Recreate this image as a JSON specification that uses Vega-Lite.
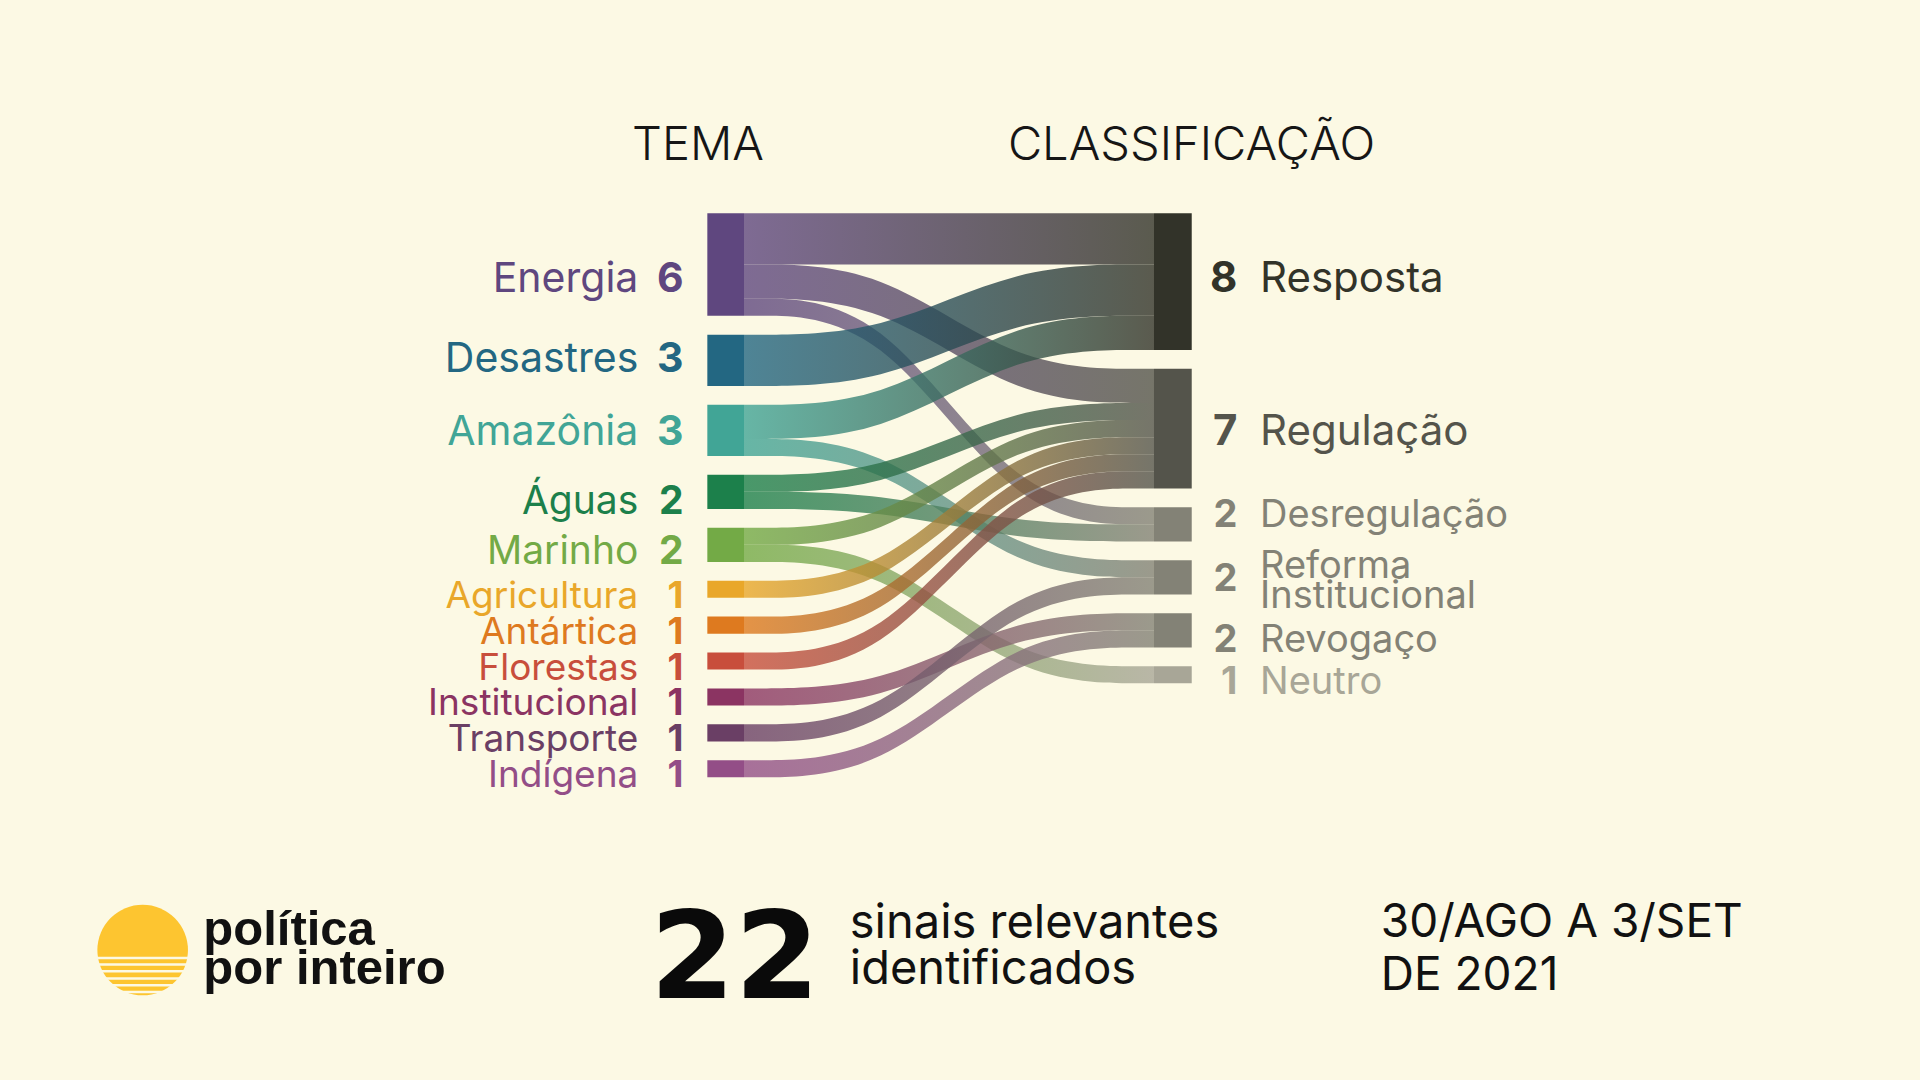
{
  "$schema": "https://vega.github.io/schema/vega-lite/v6.json",
  "width": 1920,
  "height": 1080,
  "autosize": {"type": "none"},
  "padding": 0,
  "background": "#fcf9e4",
  "config": {"view": {"stroke": null}, "text": {"font": "Inter"}},
  "data": {"values": [{}]},
  "datasets": {
    "links": [
      {"link": "Energia → Resposta", "source": "Energia", "target": "Resposta", "value": 3, "step": 0, "y0": 0, "y1": 3},
      {"link": "Energia → Resposta", "source": "Energia", "target": "Resposta", "value": 3, "step": 1, "y0": 0, "y1": 3},
      {"link": "Energia → Resposta", "source": "Energia", "target": "Resposta", "value": 3, "step": 2, "y0": 0, "y1": 3},
      {"link": "Energia → Resposta", "source": "Energia", "target": "Resposta", "value": 3, "step": 3, "y0": 0, "y1": 3},
      {"link": "Energia → Regulação", "source": "Energia", "target": "Regulação", "value": 2, "step": 0, "y0": 3, "y1": 5},
      {"link": "Energia → Regulação", "source": "Energia", "target": "Regulação", "value": 2, "step": 1, "y0": 3, "y1": 5},
      {"link": "Energia → Regulação", "source": "Energia", "target": "Regulação", "value": 2, "step": 2, "y0": 9.1, "y1": 11.1},
      {"link": "Energia → Regulação", "source": "Energia", "target": "Regulação", "value": 2, "step": 3, "y0": 9.1, "y1": 11.1},
      {"link": "Energia → Desregulação", "source": "Energia", "target": "Desregulação", "value": 1, "step": 0, "y0": 5, "y1": 6},
      {"link": "Energia → Desregulação", "source": "Energia", "target": "Desregulação", "value": 1, "step": 1, "y0": 5, "y1": 6},
      {"link": "Energia → Desregulação", "source": "Energia", "target": "Desregulação", "value": 1, "step": 2, "y0": 17.2, "y1": 18.2},
      {"link": "Energia → Desregulação", "source": "Energia", "target": "Desregulação", "value": 1, "step": 3, "y0": 17.2, "y1": 18.2},
      {"link": "Desastres → Resposta", "source": "Desastres", "target": "Resposta", "value": 3, "step": 0, "y0": 7.1, "y1": 10.1},
      {"link": "Desastres → Resposta", "source": "Desastres", "target": "Resposta", "value": 3, "step": 1, "y0": 7.1, "y1": 10.1},
      {"link": "Desastres → Resposta", "source": "Desastres", "target": "Resposta", "value": 3, "step": 2, "y0": 3, "y1": 6},
      {"link": "Desastres → Resposta", "source": "Desastres", "target": "Resposta", "value": 3, "step": 3, "y0": 3, "y1": 6},
      {"link": "Amazônia → Resposta", "source": "Amazônia", "target": "Resposta", "value": 2, "step": 0, "y0": 11.2, "y1": 13.2},
      {"link": "Amazônia → Resposta", "source": "Amazônia", "target": "Resposta", "value": 2, "step": 1, "y0": 11.2, "y1": 13.2},
      {"link": "Amazônia → Resposta", "source": "Amazônia", "target": "Resposta", "value": 2, "step": 2, "y0": 6, "y1": 8},
      {"link": "Amazônia → Resposta", "source": "Amazônia", "target": "Resposta", "value": 2, "step": 3, "y0": 6, "y1": 8},
      {"link": "Amazônia → Reforma Institucional", "source": "Amazônia", "target": "Reforma Institucional", "value": 1, "step": 0, "y0": 13.2, "y1": 14.2},
      {"link": "Amazônia → Reforma Institucional", "source": "Amazônia", "target": "Reforma Institucional", "value": 1, "step": 1, "y0": 13.2, "y1": 14.2},
      {"link": "Amazônia → Reforma Institucional", "source": "Amazônia", "target": "Reforma Institucional", "value": 1, "step": 2, "y0": 20.3, "y1": 21.3},
      {"link": "Amazônia → Reforma Institucional", "source": "Amazônia", "target": "Reforma Institucional", "value": 1, "step": 3, "y0": 20.3, "y1": 21.3},
      {"link": "Águas → Regulação", "source": "Águas", "target": "Regulação", "value": 1, "step": 0, "y0": 15.3, "y1": 16.3},
      {"link": "Águas → Regulação", "source": "Águas", "target": "Regulação", "value": 1, "step": 1, "y0": 15.3, "y1": 16.3},
      {"link": "Águas → Regulação", "source": "Águas", "target": "Regulação", "value": 1, "step": 2, "y0": 11.1, "y1": 12.1},
      {"link": "Águas → Regulação", "source": "Águas", "target": "Regulação", "value": 1, "step": 3, "y0": 11.1, "y1": 12.1},
      {"link": "Águas → Desregulação", "source": "Águas", "target": "Desregulação", "value": 1, "step": 0, "y0": 16.3, "y1": 17.3},
      {"link": "Águas → Desregulação", "source": "Águas", "target": "Desregulação", "value": 1, "step": 1, "y0": 16.3, "y1": 17.3},
      {"link": "Águas → Desregulação", "source": "Águas", "target": "Desregulação", "value": 1, "step": 2, "y0": 18.2, "y1": 19.2},
      {"link": "Águas → Desregulação", "source": "Águas", "target": "Desregulação", "value": 1, "step": 3, "y0": 18.2, "y1": 19.2},
      {"link": "Marinho → Regulação", "source": "Marinho", "target": "Regulação", "value": 1, "step": 0, "y0": 18.4, "y1": 19.4},
      {"link": "Marinho → Regulação", "source": "Marinho", "target": "Regulação", "value": 1, "step": 1, "y0": 18.4, "y1": 19.4},
      {"link": "Marinho → Regulação", "source": "Marinho", "target": "Regulação", "value": 1, "step": 2, "y0": 12.1, "y1": 13.1},
      {"link": "Marinho → Regulação", "source": "Marinho", "target": "Regulação", "value": 1, "step": 3, "y0": 12.1, "y1": 13.1},
      {"link": "Marinho → Neutro", "source": "Marinho", "target": "Neutro", "value": 1, "step": 0, "y0": 19.4, "y1": 20.4},
      {"link": "Marinho → Neutro", "source": "Marinho", "target": "Neutro", "value": 1, "step": 1, "y0": 19.4, "y1": 20.4},
      {"link": "Marinho → Neutro", "source": "Marinho", "target": "Neutro", "value": 1, "step": 2, "y0": 26.5, "y1": 27.5},
      {"link": "Marinho → Neutro", "source": "Marinho", "target": "Neutro", "value": 1, "step": 3, "y0": 26.5, "y1": 27.5},
      {"link": "Agricultura → Regulação", "source": "Agricultura", "target": "Regulação", "value": 1, "step": 0, "y0": 21.5, "y1": 22.5},
      {"link": "Agricultura → Regulação", "source": "Agricultura", "target": "Regulação", "value": 1, "step": 1, "y0": 21.5, "y1": 22.5},
      {"link": "Agricultura → Regulação", "source": "Agricultura", "target": "Regulação", "value": 1, "step": 2, "y0": 13.1, "y1": 14.1},
      {"link": "Agricultura → Regulação", "source": "Agricultura", "target": "Regulação", "value": 1, "step": 3, "y0": 13.1, "y1": 14.1},
      {"link": "Antártica → Regulação", "source": "Antártica", "target": "Regulação", "value": 1, "step": 0, "y0": 23.6, "y1": 24.6},
      {"link": "Antártica → Regulação", "source": "Antártica", "target": "Regulação", "value": 1, "step": 1, "y0": 23.6, "y1": 24.6},
      {"link": "Antártica → Regulação", "source": "Antártica", "target": "Regulação", "value": 1, "step": 2, "y0": 14.1, "y1": 15.1},
      {"link": "Antártica → Regulação", "source": "Antártica", "target": "Regulação", "value": 1, "step": 3, "y0": 14.1, "y1": 15.1},
      {"link": "Florestas → Regulação", "source": "Florestas", "target": "Regulação", "value": 1, "step": 0, "y0": 25.7, "y1": 26.7},
      {"link": "Florestas → Regulação", "source": "Florestas", "target": "Regulação", "value": 1, "step": 1, "y0": 25.7, "y1": 26.7},
      {"link": "Florestas → Regulação", "source": "Florestas", "target": "Regulação", "value": 1, "step": 2, "y0": 15.1, "y1": 16.1},
      {"link": "Florestas → Regulação", "source": "Florestas", "target": "Regulação", "value": 1, "step": 3, "y0": 15.1, "y1": 16.1},
      {"link": "Institucional → Revogaço", "source": "Institucional", "target": "Revogaço", "value": 1, "step": 0, "y0": 27.8, "y1": 28.8},
      {"link": "Institucional → Revogaço", "source": "Institucional", "target": "Revogaço", "value": 1, "step": 1, "y0": 27.8, "y1": 28.8},
      {"link": "Institucional → Revogaço", "source": "Institucional", "target": "Revogaço", "value": 1, "step": 2, "y0": 23.4, "y1": 24.4},
      {"link": "Institucional → Revogaço", "source": "Institucional", "target": "Revogaço", "value": 1, "step": 3, "y0": 23.4, "y1": 24.4},
      {"link": "Transporte → Reforma Institucional", "source": "Transporte", "target": "Reforma Institucional", "value": 1, "step": 0, "y0": 29.9, "y1": 30.9},
      {"link": "Transporte → Reforma Institucional", "source": "Transporte", "target": "Reforma Institucional", "value": 1, "step": 1, "y0": 29.9, "y1": 30.9},
      {"link": "Transporte → Reforma Institucional", "source": "Transporte", "target": "Reforma Institucional", "value": 1, "step": 2, "y0": 21.3, "y1": 22.3},
      {"link": "Transporte → Reforma Institucional", "source": "Transporte", "target": "Reforma Institucional", "value": 1, "step": 3, "y0": 21.3, "y1": 22.3},
      {"link": "Indígena → Revogaço", "source": "Indígena", "target": "Revogaço", "value": 1, "step": 0, "y0": 32, "y1": 33},
      {"link": "Indígena → Revogaço", "source": "Indígena", "target": "Revogaço", "value": 1, "step": 1, "y0": 32, "y1": 33},
      {"link": "Indígena → Revogaço", "source": "Indígena", "target": "Revogaço", "value": 1, "step": 2, "y0": 24.4, "y1": 25.4},
      {"link": "Indígena → Revogaço", "source": "Indígena", "target": "Revogaço", "value": 1, "step": 3, "y0": 24.4, "y1": 25.4}
    ]
  },
  "resolve": {"scale": {"size": "independent"}},
  "layer": [
    {
      "data": {"name": "links"},
      "encoding": {
        "x": {"field": "step", "type": "quantitative", "axis": null, "scale": {"domain": [-5.4439, 8.6049], "nice": false, "zero": false}},
        "y": {"field": "y0", "type": "quantitative", "axis": null, "stack": null, "scale": {"domain": [-12.481, 50.714], "reverse": true, "nice": false, "zero": false}},
        "y2": {"field": "y1"}
      },
      "layer": [
        {"transform": [{"filter": {"field": "link", "equal": "Energia → Resposta"}}], "mark": {"type": "area", "interpolate": "basis", "fillOpacity": 0.8, "fill": {"gradient": "linear", "stops": [{"offset": 0, "color": "#5f477f"}, {"offset": 1, "color": "#323329"}]}}},
        {"transform": [{"filter": {"field": "link", "equal": "Energia → Regulação"}}], "mark": {"type": "area", "interpolate": "basis", "fillOpacity": 0.8, "fill": {"gradient": "linear", "stops": [{"offset": 0, "color": "#5f477f"}, {"offset": 1, "color": "#54544b"}]}}},
        {"transform": [{"filter": {"field": "link", "equal": "Energia → Desregulação"}}], "mark": {"type": "area", "interpolate": "basis", "fillOpacity": 0.8, "fill": {"gradient": "linear", "stops": [{"offset": 0, "color": "#5f477f"}, {"offset": 1, "color": "#838276"}]}}},
        {"transform": [{"filter": {"field": "link", "equal": "Desastres → Resposta"}}], "mark": {"type": "area", "interpolate": "basis", "fillOpacity": 0.8, "fill": {"gradient": "linear", "stops": [{"offset": 0, "color": "#236782"}, {"offset": 1, "color": "#323329"}]}}},
        {"transform": [{"filter": {"field": "link", "equal": "Amazônia → Resposta"}}], "mark": {"type": "area", "interpolate": "basis", "fillOpacity": 0.8, "fill": {"gradient": "linear", "stops": [{"offset": 0, "color": "#41a596"}, {"offset": 1, "color": "#323329"}]}}},
        {"transform": [{"filter": {"field": "link", "equal": "Amazônia → Reforma Institucional"}}], "mark": {"type": "area", "interpolate": "basis", "fillOpacity": 0.8, "fill": {"gradient": "linear", "stops": [{"offset": 0, "color": "#41a596"}, {"offset": 1, "color": "#838276"}]}}},
        {"transform": [{"filter": {"field": "link", "equal": "Águas → Regulação"}}], "mark": {"type": "area", "interpolate": "basis", "fillOpacity": 0.8, "fill": {"gradient": "linear", "stops": [{"offset": 0, "color": "#1c804b"}, {"offset": 1, "color": "#54544b"}]}}},
        {"transform": [{"filter": {"field": "link", "equal": "Águas → Desregulação"}}], "mark": {"type": "area", "interpolate": "basis", "fillOpacity": 0.8, "fill": {"gradient": "linear", "stops": [{"offset": 0, "color": "#1c804b"}, {"offset": 1, "color": "#838276"}]}}},
        {"transform": [{"filter": {"field": "link", "equal": "Marinho → Regulação"}}], "mark": {"type": "area", "interpolate": "basis", "fillOpacity": 0.8, "fill": {"gradient": "linear", "stops": [{"offset": 0, "color": "#73aa46"}, {"offset": 1, "color": "#54544b"}]}}},
        {"transform": [{"filter": {"field": "link", "equal": "Marinho → Neutro"}}], "mark": {"type": "area", "interpolate": "basis", "fillOpacity": 0.8, "fill": {"gradient": "linear", "stops": [{"offset": 0, "color": "#73aa46"}, {"offset": 1, "color": "#a8a697"}]}}},
        {"transform": [{"filter": {"field": "link", "equal": "Agricultura → Regulação"}}], "mark": {"type": "area", "interpolate": "basis", "fillOpacity": 0.8, "fill": {"gradient": "linear", "stops": [{"offset": 0, "color": "#e9a72a"}, {"offset": 1, "color": "#54544b"}]}}},
        {"transform": [{"filter": {"field": "link", "equal": "Antártica → Regulação"}}], "mark": {"type": "area", "interpolate": "basis", "fillOpacity": 0.8, "fill": {"gradient": "linear", "stops": [{"offset": 0, "color": "#de7a1f"}, {"offset": 1, "color": "#54544b"}]}}},
        {"transform": [{"filter": {"field": "link", "equal": "Florestas → Regulação"}}], "mark": {"type": "area", "interpolate": "basis", "fillOpacity": 0.8, "fill": {"gradient": "linear", "stops": [{"offset": 0, "color": "#c84e3c"}, {"offset": 1, "color": "#54544b"}]}}},
        {"transform": [{"filter": {"field": "link", "equal": "Institucional → Revogaço"}}], "mark": {"type": "area", "interpolate": "basis", "fillOpacity": 0.8, "fill": {"gradient": "linear", "stops": [{"offset": 0, "color": "#8b3462"}, {"offset": 1, "color": "#838276"}]}}},
        {"transform": [{"filter": {"field": "link", "equal": "Transporte → Reforma Institucional"}}], "mark": {"type": "area", "interpolate": "basis", "fillOpacity": 0.8, "fill": {"gradient": "linear", "stops": [{"offset": 0, "color": "#6a3f65"}, {"offset": 1, "color": "#838276"}]}}},
        {"transform": [{"filter": {"field": "link", "equal": "Indígena → Revogaço"}}], "mark": {"type": "area", "interpolate": "basis", "fillOpacity": 0.8, "fill": {"gradient": "linear", "stops": [{"offset": 0, "color": "#934e87"}, {"offset": 1, "color": "#838276"}]}}}
      ]
    },
    {
      "data": {"name": "links"},
      "transform": [
        {"filter": {"field": "step", "equal": 0}},
        {"aggregate": [{"op": "min", "field": "y0", "as": "top"}, {"op": "max", "field": "y1", "as": "bottom"}], "groupby": ["source"]}
      ],
      "mark": {"type": "rect"},
      "encoding": {
        "x": {"datum": -0.2683, "type": "quantitative", "axis": null, "scale": {"domain": [-5.4439, 8.6049], "nice": false, "zero": false}},
        "x2": {"datum": 0},
        "y": {"field": "top", "type": "quantitative", "axis": null, "scale": {"domain": [-12.481, 50.714], "reverse": true, "nice": false, "zero": false}},
        "y2": {"field": "bottom"},
        "color": {"field": "source", "type": "nominal", "legend": null, "scale": {"domain": ["Energia", "Desastres", "Amazônia", "Águas", "Marinho", "Agricultura", "Antártica", "Florestas", "Institucional", "Transporte", "Indígena", "Resposta", "Regulação", "Desregulação", "Reforma Institucional", "Revogaço", "Neutro"], "range": ["#5f477f", "#236782", "#41a596", "#1c804b", "#73aa46", "#e9a72a", "#de7a1f", "#c84e3c", "#8b3462", "#6a3f65", "#934e87", "#323329", "#54544b", "#838276", "#838276", "#838276", "#a8a697"]}}
      }
    },
    {
      "data": {"name": "links"},
      "transform": [
        {"filter": {"field": "step", "equal": 3}},
        {"aggregate": [{"op": "min", "field": "y0", "as": "top"}, {"op": "max", "field": "y1", "as": "bottom"}], "groupby": ["target"]}
      ],
      "mark": {"type": "rect"},
      "encoding": {
        "x": {"datum": 3, "type": "quantitative", "axis": null, "scale": {"domain": [-5.4439, 8.6049], "nice": false, "zero": false}},
        "x2": {"datum": 3.2761},
        "y": {"field": "top", "type": "quantitative", "axis": null, "scale": {"domain": [-12.481, 50.714], "reverse": true, "nice": false, "zero": false}},
        "y2": {"field": "bottom"},
        "color": {"field": "target", "type": "nominal", "legend": null, "scale": {"domain": ["Energia", "Desastres", "Amazônia", "Águas", "Marinho", "Agricultura", "Antártica", "Florestas", "Institucional", "Transporte", "Indígena", "Resposta", "Regulação", "Desregulação", "Reforma Institucional", "Revogaço", "Neutro"], "range": ["#5f477f", "#236782", "#41a596", "#1c804b", "#73aa46", "#e9a72a", "#de7a1f", "#c84e3c", "#8b3462", "#6a3f65", "#934e87", "#323329", "#54544b", "#838276", "#838276", "#838276", "#a8a697"]}}
      }
    },
    {
      "data": {"name": "links"},
      "transform": [
        {"filter": {"field": "step", "equal": 0}},
        {"aggregate": [{"op": "min", "field": "y0", "as": "top"}, {"op": "max", "field": "y1", "as": "bottom"}, {"op": "sum", "field": "value", "as": "total"}], "groupby": ["source"]},
        {"fold": ["top", "bottom"], "as": ["edge", "pos"]},
        {"aggregate": [{"op": "mean", "field": "pos", "as": "mid"}], "groupby": ["source", "total"]}
      ],
      "encoding": {
        "x": {"datum": -0.2683, "type": "quantitative", "axis": null, "scale": {"domain": [-5.4439, 8.6049], "nice": false, "zero": false}},
        "y": {"field": "mid", "type": "quantitative", "axis": null, "scale": {"domain": [-12.481, 50.714], "reverse": true, "nice": false, "zero": false}},
        "size": {"field": "total", "type": "quantitative", "legend": null, "scale": {"type": "linear", "domain": [1, 3], "range": [37, 41], "clamp": true}},
        "color": {"field": "source", "type": "nominal", "legend": null, "scale": {"domain": ["Energia", "Desastres", "Amazônia", "Águas", "Marinho", "Agricultura", "Antártica", "Florestas", "Institucional", "Transporte", "Indígena", "Resposta", "Regulação", "Desregulação", "Reforma Institucional", "Revogaço", "Neutro"], "range": ["#5f477f", "#236782", "#41a596", "#1c804b", "#73aa46", "#e9a72a", "#de7a1f", "#c84e3c", "#8b3462", "#6a3f65", "#934e87", "#323329", "#54544b", "#838276", "#838276", "#838276", "#a8a697"]}}
      },
      "layer": [
        {"transform": [{"filter": {"field": "source", "equal": "Energia"}}], "mark": {"type": "text", "align": "right", "baseline": "middle", "dx": -69, "dy": 15}, "encoding": {"text": {"field": "source"}}},
        {"transform": [{"filter": {"field": "source", "equal": "Energia"}}], "mark": {"type": "text", "align": "right", "baseline": "middle", "dx": -23.8, "dy": 15, "fontWeight": 700}, "encoding": {"text": {"field": "total", "type": "quantitative", "format": "d"}}},
        {"transform": [{"filter": {"field": "source", "equal": "Desastres"}}], "mark": {"type": "text", "align": "right", "baseline": "middle", "dx": -69, "dy": 0}, "encoding": {"text": {"field": "source"}}},
        {"transform": [{"filter": {"field": "source", "equal": "Desastres"}}], "mark": {"type": "text", "align": "right", "baseline": "middle", "dx": -23.8, "dy": 0, "fontWeight": 700}, "encoding": {"text": {"field": "total", "type": "quantitative", "format": "d"}}},
        {"transform": [{"filter": {"field": "source", "equal": "Amazônia"}}], "mark": {"type": "text", "align": "right", "baseline": "middle", "dx": -69, "dy": 3}, "encoding": {"text": {"field": "source"}}},
        {"transform": [{"filter": {"field": "source", "equal": "Amazônia"}}], "mark": {"type": "text", "align": "right", "baseline": "middle", "dx": -23.8, "dy": 3, "fontWeight": 700}, "encoding": {"text": {"field": "total", "type": "quantitative", "format": "d"}}},
        {"transform": [{"filter": {"field": "source", "equal": "Águas"}}], "mark": {"type": "text", "align": "right", "baseline": "middle", "dx": -69, "dy": 10.5}, "encoding": {"text": {"field": "source"}}},
        {"transform": [{"filter": {"field": "source", "equal": "Águas"}}], "mark": {"type": "text", "align": "right", "baseline": "middle", "dx": -23.8, "dy": 10.5, "fontWeight": 700}, "encoding": {"text": {"field": "total", "type": "quantitative", "format": "d"}}},
        {"transform": [{"filter": {"field": "source", "oneOf": ["Marinho", "Agricultura", "Antártica", "Florestas", "Institucional", "Transporte", "Indígena"]}}], "mark": {"type": "text", "align": "right", "baseline": "middle", "dx": -69, "dy": 7.5}, "encoding": {"text": {"field": "source"}}},
        {"transform": [{"filter": {"field": "source", "oneOf": ["Marinho", "Agricultura", "Antártica", "Florestas", "Institucional", "Transporte", "Indígena"]}}], "mark": {"type": "text", "align": "right", "baseline": "middle", "dx": -23.8, "dy": 7.5, "fontWeight": 700}, "encoding": {"text": {"field": "total", "type": "quantitative", "format": "d"}}}
      ]
    },
    {
      "data": {"name": "links"},
      "transform": [
        {"filter": {"field": "step", "equal": 3}},
        {"aggregate": [{"op": "min", "field": "y0", "as": "top"}, {"op": "max", "field": "y1", "as": "bottom"}, {"op": "sum", "field": "value", "as": "total"}], "groupby": ["target"]},
        {"fold": ["top", "bottom"], "as": ["edge", "pos"]},
        {"aggregate": [{"op": "mean", "field": "pos", "as": "mid"}], "groupby": ["target", "total"]}
      ],
      "encoding": {
        "x": {"datum": 3.2761, "type": "quantitative", "axis": null, "scale": {"domain": [-5.4439, 8.6049], "nice": false, "zero": false}},
        "y": {"field": "mid", "type": "quantitative", "axis": null, "scale": {"domain": [-12.481, 50.714], "reverse": true, "nice": false, "zero": false}},
        "size": {"field": "total", "type": "quantitative", "legend": null, "scale": {"type": "linear", "domain": [2, 7], "range": [38, 42], "clamp": true}},
        "color": {"field": "target", "type": "nominal", "legend": null, "scale": {"domain": ["Energia", "Desastres", "Amazônia", "Águas", "Marinho", "Agricultura", "Antártica", "Florestas", "Institucional", "Transporte", "Indígena", "Resposta", "Regulação", "Desregulação", "Reforma Institucional", "Revogaço", "Neutro"], "range": ["#5f477f", "#236782", "#41a596", "#1c804b", "#73aa46", "#e9a72a", "#de7a1f", "#c84e3c", "#8b3462", "#6a3f65", "#934e87", "#323329", "#54544b", "#838276", "#838276", "#838276", "#a8a697"]}}
      },
      "layer": [
        {"transform": [{"filter": {"field": "target", "equal": "Resposta"}}], "mark": {"type": "text", "align": "left", "baseline": "middle", "dx": 68.3, "dy": -3}, "encoding": {"text": {"field": "target"}}},
        {"transform": [{"filter": {"field": "target", "equal": "Resposta"}}], "mark": {"type": "text", "align": "right", "baseline": "middle", "dx": 45.6, "dy": -3, "fontWeight": 700}, "encoding": {"text": {"field": "total", "type": "quantitative", "format": "d"}}},
        {"transform": [{"filter": {"field": "target", "equal": "Regulação"}}], "mark": {"type": "text", "align": "left", "baseline": "middle", "dx": 68.3, "dy": 3}, "encoding": {"text": {"field": "target"}}},
        {"transform": [{"filter": {"field": "target", "equal": "Regulação"}}], "mark": {"type": "text", "align": "right", "baseline": "middle", "dx": 45.6, "dy": 3, "fontWeight": 700}, "encoding": {"text": {"field": "total", "type": "quantitative", "format": "d"}}},
        {"transform": [{"filter": {"field": "target", "equal": "Desregulação"}}], "mark": {"type": "text", "align": "left", "baseline": "middle", "dx": 68.3, "dy": -8.5}, "encoding": {"text": {"field": "target"}}},
        {"transform": [{"filter": {"field": "target", "equal": "Desregulação"}}], "mark": {"type": "text", "align": "right", "baseline": "middle", "dx": 45.6, "dy": -8.5, "fontWeight": 700}, "encoding": {"text": {"field": "total", "type": "quantitative", "format": "d"}}},
        {"transform": [{"filter": {"field": "target", "equal": "Reforma Institucional"}}], "mark": {"type": "text", "align": "left", "baseline": "middle", "dx": 68.3, "dy": -10, "lineBreak": " ", "lineHeight": 30}, "encoding": {"text": {"field": "target"}}},
        {"transform": [{"filter": {"field": "target", "equal": "Reforma Institucional"}}], "mark": {"type": "text", "align": "right", "baseline": "middle", "dx": 45.6, "dy": 2.5, "fontWeight": 700}, "encoding": {"text": {"field": "total", "type": "quantitative", "format": "d"}}},
        {"transform": [{"filter": {"field": "target", "equal": "Revogaço"}}], "mark": {"type": "text", "align": "left", "baseline": "middle", "dx": 68.3, "dy": 10.5}, "encoding": {"text": {"field": "target"}}},
        {"transform": [{"filter": {"field": "target", "equal": "Revogaço"}}], "mark": {"type": "text", "align": "right", "baseline": "middle", "dx": 45.6, "dy": 10.5, "fontWeight": 700}, "encoding": {"text": {"field": "total", "type": "quantitative", "format": "d"}}},
        {"transform": [{"filter": {"field": "target", "equal": "Neutro"}}], "mark": {"type": "text", "align": "left", "baseline": "middle", "dx": 68.3, "dy": 8}, "encoding": {"text": {"field": "target"}}},
        {"transform": [{"filter": {"field": "target", "equal": "Neutro"}}], "mark": {"type": "text", "align": "right", "baseline": "middle", "dx": 45.6, "dy": 8, "fontWeight": 700}, "encoding": {"text": {"field": "total", "type": "quantitative", "format": "d"}}}
      ]
    },
    {
      "mark": {"type": "text", "align": "center", "baseline": "alphabetic", "font": "Inter", "fontWeight": 300, "fontSize": 47, "color": "#161616"},
      "encoding": {
        "x": {"datum": -0.3366, "type": "quantitative", "axis": null, "scale": {"domain": [-5.4439, 8.6049], "nice": false, "zero": false}},
        "y": {"datum": -3.095, "type": "quantitative", "axis": null, "scale": {"domain": [-12.481, 50.714], "reverse": true, "nice": false, "zero": false}},
        "text": {"value": "TEMA"}
      }
    },
    {
      "mark": {"type": "text", "align": "center", "baseline": "alphabetic", "font": "Inter", "fontWeight": 300, "fontSize": 47, "color": "#161616"},
      "encoding": {
        "x": {"datum": 3.2744, "type": "quantitative", "axis": null, "scale": {"domain": [-5.4439, 8.6049], "nice": false, "zero": false}},
        "y": {"datum": -3.095, "type": "quantitative", "axis": null, "scale": {"domain": [-12.481, 50.714], "reverse": true, "nice": false, "zero": false}},
        "text": {"value": "CLASSIFICAÇÃO"}
      }
    },
    {
      "mark": {"type": "point", "shape": "circle", "filled": true, "size": 8208, "color": "#fdc530", "opacity": 1},
      "encoding": {
        "x": {"datum": -4.4, "type": "quantitative", "axis": null, "scale": {"domain": [-5.4439, 8.6049], "nice": false, "zero": false}},
        "y": {"datum": 43.11, "type": "quantitative", "axis": null, "scale": {"domain": [-12.481, 50.714], "reverse": true, "nice": false, "zero": false}}
      }
    },
    {"mark": {"type": "rule", "color": "#fcf9e4", "strokeWidth": 2.5}, "encoding": {"x": {"datum": -4.8, "type": "quantitative", "axis": null, "scale": {"domain": [-5.4439, 8.6049], "nice": false, "zero": false}}, "x2": {"datum": -4.0}, "y": {"datum": 43.57, "type": "quantitative", "axis": null, "scale": {"domain": [-12.481, 50.714], "reverse": true, "nice": false, "zero": false}}}},
    {"mark": {"type": "rule", "color": "#fcf9e4", "strokeWidth": 2.5}, "encoding": {"x": {"datum": -4.8, "type": "quantitative", "axis": null, "scale": {"domain": [-5.4439, 8.6049], "nice": false, "zero": false}}, "x2": {"datum": -4.0}, "y": {"datum": 43.96, "type": "quantitative", "axis": null, "scale": {"domain": [-12.481, 50.714], "reverse": true, "nice": false, "zero": false}}}},
    {"mark": {"type": "rule", "color": "#fcf9e4", "strokeWidth": 2.5}, "encoding": {"x": {"datum": -4.8, "type": "quantitative", "axis": null, "scale": {"domain": [-5.4439, 8.6049], "nice": false, "zero": false}}, "x2": {"datum": -4.0}, "y": {"datum": 44.35, "type": "quantitative", "axis": null, "scale": {"domain": [-12.481, 50.714], "reverse": true, "nice": false, "zero": false}}}},
    {"mark": {"type": "rule", "color": "#fcf9e4", "strokeWidth": 2.5}, "encoding": {"x": {"datum": -4.8, "type": "quantitative", "axis": null, "scale": {"domain": [-5.4439, 8.6049], "nice": false, "zero": false}}, "x2": {"datum": -4.0}, "y": {"datum": 44.78, "type": "quantitative", "axis": null, "scale": {"domain": [-12.481, 50.714], "reverse": true, "nice": false, "zero": false}}}},
    {"mark": {"type": "rule", "color": "#fcf9e4", "strokeWidth": 2.5}, "encoding": {"x": {"datum": -4.8, "type": "quantitative", "axis": null, "scale": {"domain": [-5.4439, 8.6049], "nice": false, "zero": false}}, "x2": {"datum": -4.0}, "y": {"datum": 45.17, "type": "quantitative", "axis": null, "scale": {"domain": [-12.481, 50.714], "reverse": true, "nice": false, "zero": false}}}},
    {"mark": {"type": "rule", "color": "#fcf9e4", "strokeWidth": 2.5}, "encoding": {"x": {"datum": -4.8, "type": "quantitative", "axis": null, "scale": {"domain": [-5.4439, 8.6049], "nice": false, "zero": false}}, "x2": {"datum": -4.0}, "y": {"datum": 45.56, "type": "quantitative", "axis": null, "scale": {"domain": [-12.481, 50.714], "reverse": true, "nice": false, "zero": false}}}},
    {
      "mark": {"type": "text", "align": "left", "baseline": "alphabetic", "font": "Liberation Sans, Arial, sans-serif", "fontWeight": "bold", "fontSize": 49, "lineHeight": 39, "color": "#111111"},
      "encoding": {
        "x": {"datum": -3.956, "type": "quantitative", "axis": null, "scale": {"domain": [-5.4439, 8.6049], "nice": false, "zero": false}},
        "y": {"datum": 42.81, "type": "quantitative", "axis": null, "scale": {"domain": [-12.481, 50.714], "reverse": true, "nice": false, "zero": false}},
        "text": {"value": ["política", "por inteiro"]}
      }
    },
    {
      "mark": {"type": "text", "align": "left", "baseline": "alphabetic", "font": "DejaVu Sans", "fontWeight": "bold", "fontSize": 122, "color": "#0a0a0a"},
      "encoding": {
        "x": {"datum": -0.688, "type": "quantitative", "axis": null, "scale": {"domain": [-5.4439, 8.6049], "nice": false, "zero": false}},
        "y": {"datum": 45.9, "type": "quantitative", "axis": null, "scale": {"domain": [-12.481, 50.714], "reverse": true, "nice": false, "zero": false}},
        "text": {"value": "22"}
      }
    },
    {
      "mark": {"type": "text", "align": "left", "baseline": "alphabetic", "font": "Inter", "fontSize": 47, "lineHeight": 46.5, "color": "#111111"},
      "encoding": {
        "x": {"datum": 0.774, "type": "quantitative", "axis": null, "scale": {"domain": [-5.4439, 8.6049], "nice": false, "zero": false}},
        "y": {"datum": 42.4, "type": "quantitative", "axis": null, "scale": {"domain": [-12.481, 50.714], "reverse": true, "nice": false, "zero": false}},
        "text": {"value": ["sinais relevantes", "identificados"]}
      }
    },
    {
      "mark": {"type": "text", "align": "left", "baseline": "alphabetic", "font": "Inter", "fontSize": 46, "lineHeight": 53, "color": "#111111"},
      "encoding": {
        "x": {"datum": 4.659, "type": "quantitative", "axis": null, "scale": {"domain": [-5.4439, 8.6049], "nice": false, "zero": false}},
        "y": {"datum": 42.33, "type": "quantitative", "axis": null, "scale": {"domain": [-12.481, 50.714], "reverse": true, "nice": false, "zero": false}},
        "text": {"value": ["30/AGO A 3/SET", "DE 2021"]}
      }
    }
  ]
}
